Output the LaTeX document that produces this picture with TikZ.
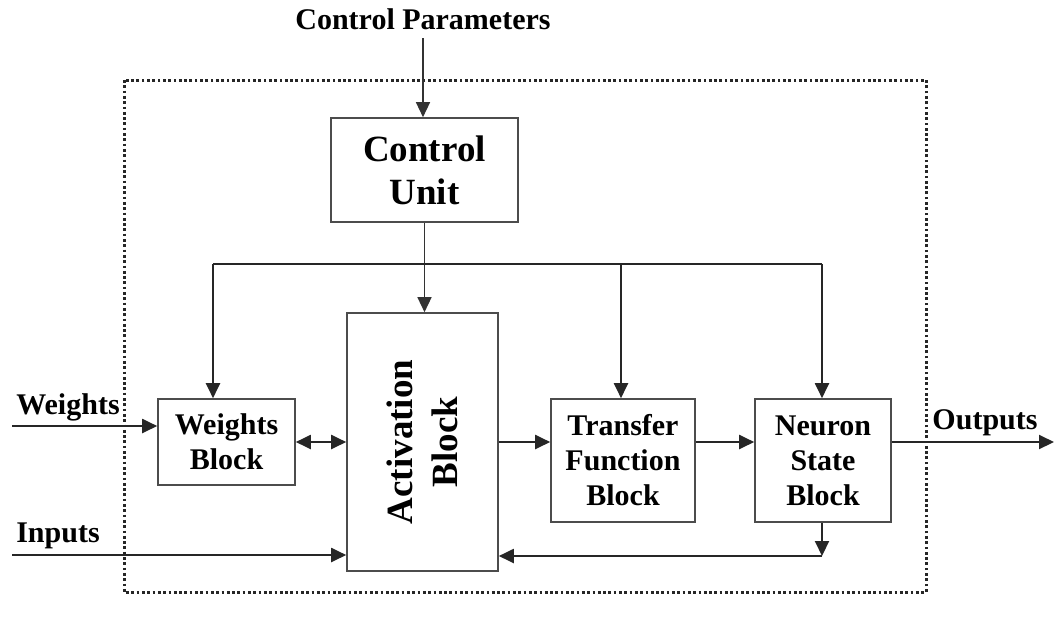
\documentclass[tikz,border=0pt]{standalone}
\usepackage{fontspec}
\setmainfont{Liberation Serif}
\usetikzlibrary{arrows.meta,calc}
\begin{document}
\begin{tikzpicture}[x=1pt,y=-1pt,
  blk/.style={draw=black!70, line width=1.6pt, fill=white, align=center, inner sep=0pt,
    font=\bfseries\fontsize{30}{35}\selectfont},
  lbl/.style={font=\bfseries\fontsize{30}{35}\selectfont, inner sep=0pt},
  conn/.style={draw=black!85, line width=2pt},
  arr/.style={conn, -{Triangle[length=15pt,width=14pt]}},
  darr/.style={conn, {Triangle[length=15pt,width=14pt]}-{Triangle[length=15pt,width=14pt]}},
  thin/.style={draw=black!80, line width=1.4pt, -{Triangle[length=15pt,width=14pt]}},
  border/.style={draw=black!85, line width=3pt, dash pattern=on 2.7pt off 2.6pt}
]
\useasboundingbox (0,0) rectangle (1054,619);
\draw[border] (124,80) rectangle (926,592);

\node[blk, minimum width=187pt, minimum height=104pt, font=\bfseries\fontsize{37}{43}\selectfont] (cu) at (424.5,170) {Control\\Unit};
\node[blk, minimum width=137pt, minimum height=86pt] (wb) at (226.5,442) {Weights\\Block};
\node[blk, minimum width=151pt, minimum height=258pt] (act) at (422.5,442) {};
\node[rotate=90, align=center, inner sep=0pt, font=\bfseries\fontsize{37}{45}\selectfont] (acttxt) at (act.center) {Activation\\Block};
\node[blk, minimum width=144pt, minimum height=123pt] (tf) at (623,460.5) {Transfer\\Function\\Block};
\node[blk, minimum width=136pt, minimum height=123pt] (ns) at (823,460.5) {Neuron\\State\\Block};

\node[lbl] (cp) at (423,19) {Control Parameters};
\node[lbl] (wl) at (68,407) {Weights};
\node[lbl] (il) at (58,536) {Inputs};
\node[lbl] (ol) at (985,423) {Outputs};

\coordinate (cpend) at (423,38);
\coordinate (win) at (12,426);
\coordinate (iin) at (12,555);
\coordinate (oout) at (1054,442);
\coordinate (busL) at (213,264);
\coordinate (busT) at (621,264);
\coordinate (busR) at (822,264);
\coordinate (fb) at (822,556);

% control parameters into control unit
\draw[thin] (cpend) -- (cu.north -| cpend);
% control unit to activation
\draw[thin] (cu.south) -- (cu.south |- act.north);
% bus
\draw[conn] (busL) -- (busR);
\draw[arr] (busL) -- (busL |- wb.north);
\draw[arr] (busT) -- (busT |- tf.north);
\draw[arr] (busR) -- (busR |- ns.north);
% inputs
\draw[arr] (win) -- (win -| wb.west);
\draw[arr] (iin) -- (iin -| act.west);
% main chain
\draw[darr] (wb.east) -- (wb.east -| act.west);
\draw[arr] (act.east) -- (act.east -| tf.west);
\draw[arr] (act.east -| tf.east) -- (act.east -| ns.west);
\draw[arr] (act.east -| ns.east) -- (oout);
% feedback
\draw[arr] (ns.south -| fb) -- (fb);
\draw[arr] (fb) -- (fb -| act.east);
\end{tikzpicture}
\end{document}
